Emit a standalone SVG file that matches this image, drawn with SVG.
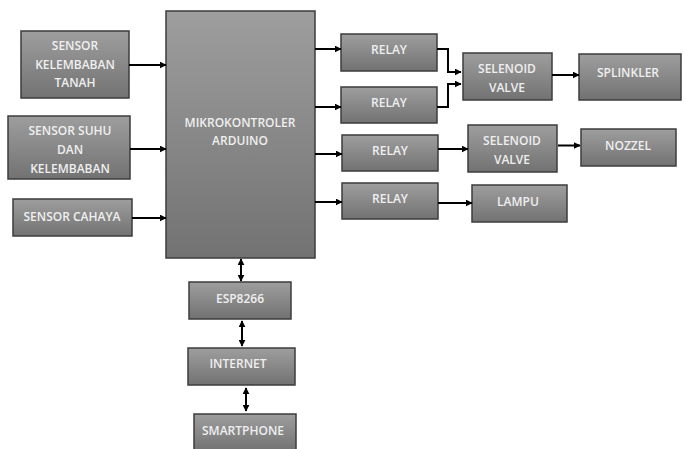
<svg xmlns="http://www.w3.org/2000/svg" width="686" height="449" viewBox="0 0 686 449">
<defs>
<linearGradient id="g" x1="0" y1="0" x2="0" y2="1">
<stop offset="0" stop-color="#9e9e9e"/>
<stop offset="1" stop-color="#727272"/>
</linearGradient>
<marker id="ah" viewBox="0 0 10 10" refX="9" refY="5" markerWidth="7" markerHeight="7" markerUnits="userSpaceOnUse" orient="auto-start-reverse">
<path d="M0,0 L10,5 L0,10 z" fill="#000"/>
</marker>
<style>
rect.n{fill:url(#g);stroke:#3c3c3c;stroke-width:1.5}
text{font-family:"Open Sans","Liberation Sans",sans-serif;font-size:12px;font-weight:600;fill:#efefef;text-anchor:middle;dominant-baseline:central}
.c path,.c line{fill:none;stroke:#000;stroke-width:2}
</style>
</defs>
<rect width="686" height="449" fill="#fff"/>
<g id="sensor-tanah"><rect class="n" x="21" y="31" width="108" height="67"/><text x="75" y="45">SENSOR</text><text x="75" y="64">KELEMBABAN</text><text x="75" y="82">TANAH</text></g>
<g id="sensor-suhu"><rect class="n" x="8" y="116" width="122" height="63"/><text x="70" y="130">SENSOR SUHU</text><text x="70" y="149">DAN</text><text x="70" y="168">KELEMBABAN</text></g>
<g id="sensor-cahaya"><rect class="n" x="13" y="199" width="119" height="37"/><text x="72" y="216">SENSOR CAHAYA</text></g>
<g id="mikro"><rect class="n" x="166" y="11" width="149" height="247"/><text x="240" y="122">MIKROKONTROLER</text><text x="240" y="140">ARDUINO</text></g>
<g id="relay1"><rect class="n" x="341" y="34" width="96" height="37"/><text x="389" y="49">RELAY</text></g>
<g id="relay2"><rect class="n" x="341" y="87" width="96" height="36"/><text x="389" y="102">RELAY</text></g>
<g id="relay3"><rect class="n" x="342" y="135" width="96" height="36"/><text x="390" y="150">RELAY</text></g>
<g id="relay4"><rect class="n" x="342" y="183" width="96" height="36"/><text x="390" y="198">RELAY</text></g>
<g id="valve1"><rect class="n" x="463" y="53" width="89" height="47"/><text x="507" y="68">SELENOID</text><text x="507" y="87">VALVE</text></g>
<g id="splinkler"><rect class="n" x="579" y="54" width="102" height="46"/><text x="628" y="72">SPLINKLER</text></g>
<g id="valve2"><rect class="n" x="468" y="125" width="89" height="47"/><text x="512" y="140">SELENOID</text><text x="512" y="159">VALVE</text></g>
<g id="nozzel"><rect class="n" x="581" y="129" width="95" height="37"/><text x="628" y="145">NOZZEL</text></g>
<g id="lampu"><rect class="n" x="472" y="185" width="95" height="37"/><text x="518" y="201">LAMPU</text></g>
<g id="esp"><rect class="n" x="189" y="282" width="102" height="37"/><text x="240" y="298">ESP8266</text></g>
<g id="internet"><rect class="n" x="188" y="348" width="107" height="37"/><text x="238" y="363">INTERNET</text></g>
<g id="smartphone"><rect class="n" x="194" y="414" width="102" height="37"/><text x="243" y="430">SMARTPHONE</text></g>
<g class="c" id="connectors">
<line x1="129" y1="65" x2="166" y2="65" marker-end="url(#ah)"/>
<line x1="130" y1="149" x2="166" y2="149" marker-end="url(#ah)"/>
<line x1="132" y1="218" x2="166" y2="218" marker-end="url(#ah)"/>
<line x1="315" y1="49" x2="341" y2="49" marker-end="url(#ah)"/>
<line x1="315" y1="107" x2="341" y2="107" marker-end="url(#ah)"/>
<line x1="315" y1="154" x2="342" y2="154" marker-end="url(#ah)"/>
<line x1="315" y1="202" x2="342" y2="202" marker-end="url(#ah)"/>
<path d="M437,49 H448 V72 H461" marker-end="url(#ah)"/>
<path d="M437,107 H448 V84 H461" marker-end="url(#ah)"/>
<line x1="552" y1="75" x2="579" y2="75" marker-end="url(#ah)"/>
<line x1="438" y1="149" x2="468" y2="149" marker-end="url(#ah)"/>
<line x1="558" y1="145.5" x2="580" y2="145.5" marker-end="url(#ah)"/>
<line x1="438" y1="203" x2="472" y2="203" marker-end="url(#ah)"/>
<line x1="241" y1="259" x2="241" y2="281" marker-start="url(#ah)" marker-end="url(#ah)"/>
<line x1="242" y1="321" x2="242" y2="346" marker-start="url(#ah)" marker-end="url(#ah)"/>
<line x1="246" y1="388" x2="246" y2="411" marker-start="url(#ah)" marker-end="url(#ah)"/>
</g>
</svg>
